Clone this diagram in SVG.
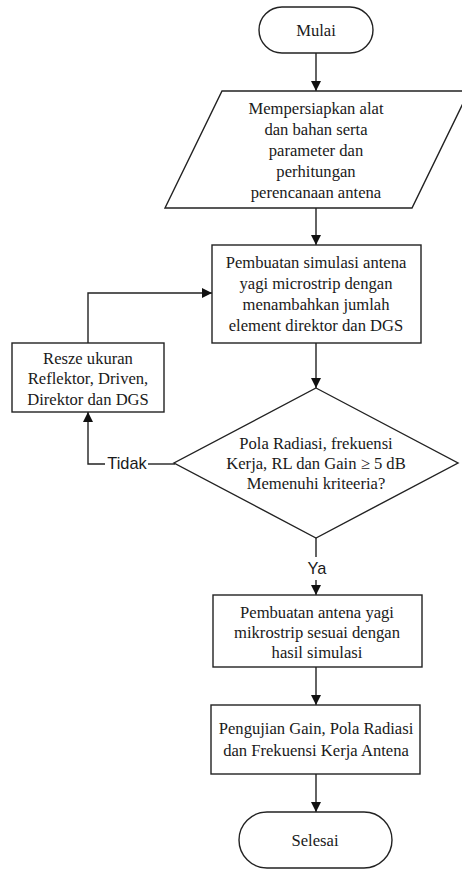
<svg xmlns="http://www.w3.org/2000/svg" width="462" height="871" viewBox="0 0 462 871">
<style>
.s{fill:#fff;stroke:#222;stroke-width:1.4}
.t{font-family:"Liberation Serif","Times New Roman",serif;font-size:16.6px;fill:#1a1a1a;text-anchor:middle}
.l{font-family:"Liberation Sans",Arial,sans-serif;font-size:16.4px;fill:#1a1a1a;text-anchor:middle}
.c{fill:none;stroke:#222;stroke-width:1.4}
</style>
<defs>
<marker id="ah" viewBox="0 0 10 10" refX="10" refY="5" markerWidth="10" markerHeight="10" markerUnits="userSpaceOnUse" orient="auto">
<path d="M0,0 L10,5 L0,10 Z" fill="#111"/>
</marker>
</defs>
<rect width="462" height="871" fill="#fff"/>
<g id="connectors">
<path class="c" d="M316,53 V91" marker-end="url(#ah)"/>
<path class="c" d="M316,208 V245" marker-end="url(#ah)"/>
<path class="c" d="M316,343 V388" marker-end="url(#ah)"/>
<path class="c" d="M316,538 V557"/>
<path class="c" d="M316,580 V595" marker-end="url(#ah)"/>
<path class="c" d="M316,667 V705" marker-end="url(#ah)"/>
<path class="c" d="M316,774 V812" marker-end="url(#ah)"/>
<path class="c" d="M88,343 V293 H212" marker-end="url(#ah)"/>
<path class="c" d="M175,464 H148"/>
<path class="c" d="M105,464 H88 V412" marker-end="url(#ah)"/>
<text class="l" x="127" y="469">Tidak</text>
<text class="l" x="317" y="574">Ya</text>
</g>
<g id="mulai">
<rect class="s" x="259" y="7" width="114" height="46" rx="23"/>
<text class="t" x="316" y="36">Mulai</text>
</g>
<g id="persiapan">
<polygon class="s" points="222,91 469,91 412,208 165,208"/>
<text class="t" x="316" y="114">Mempersiapkan alat</text>
<text class="t" x="316" y="135">dan bahan serta</text>
<text class="t" x="316" y="156">parameter dan</text>
<text class="t" x="316" y="177">perhitungan</text>
<text class="t" x="316" y="198">perencanaan antena</text>
</g>
<g id="simulasi">
<rect class="s" x="212" y="245" width="209" height="98"/>
<text class="t" x="316" y="268">Pembuatan simulasi antena</text>
<text class="t" x="316" y="289">yagi microstrip dengan</text>
<text class="t" x="316" y="310">menambahkan jumlah</text>
<text class="t" x="316" y="331">element direktor dan DGS</text>
</g>
<g id="resize">
<rect class="s" x="12" y="343" width="152" height="69"/>
<text class="t" x="88" y="364">Resze ukuran</text>
<text class="t" x="88" y="384">Reflektor, Driven,</text>
<text class="t" x="88" y="405">Direktor dan DGS</text>
</g>
<g id="keputusan">
<polygon class="s" points="316,388 458,463 316,538 174,463"/>
<text class="t" x="316" y="449">Pola Radiasi, frekuensi</text>
<text class="t" x="316" y="469">Kerja, RL dan Gain ≥ 5 dB</text>
<text class="t" x="316" y="489">Memenuhi kriteeria?</text>
</g>
<g id="pembuatan">
<rect class="s" x="213" y="595" width="209" height="72"/>
<text class="t" x="317" y="618">Pembuatan antena yagi</text>
<text class="t" x="317" y="638">mikrostrip sesuai dengan</text>
<text class="t" x="317" y="658">hasil simulasi</text>
</g>
<g id="pengujian">
<rect class="s" x="211" y="705" width="209" height="69"/>
<text class="t" x="316" y="734">Pengujian Gain, Pola Radiasi</text>
<text class="t" x="316" y="756">dan Frekuensi Kerja Antena</text>
</g>
<g id="selesai">
<rect class="s" x="239" y="812" width="153" height="56" rx="28"/>
<text class="t" x="315" y="846">Selesai</text>
</g>
</svg>
